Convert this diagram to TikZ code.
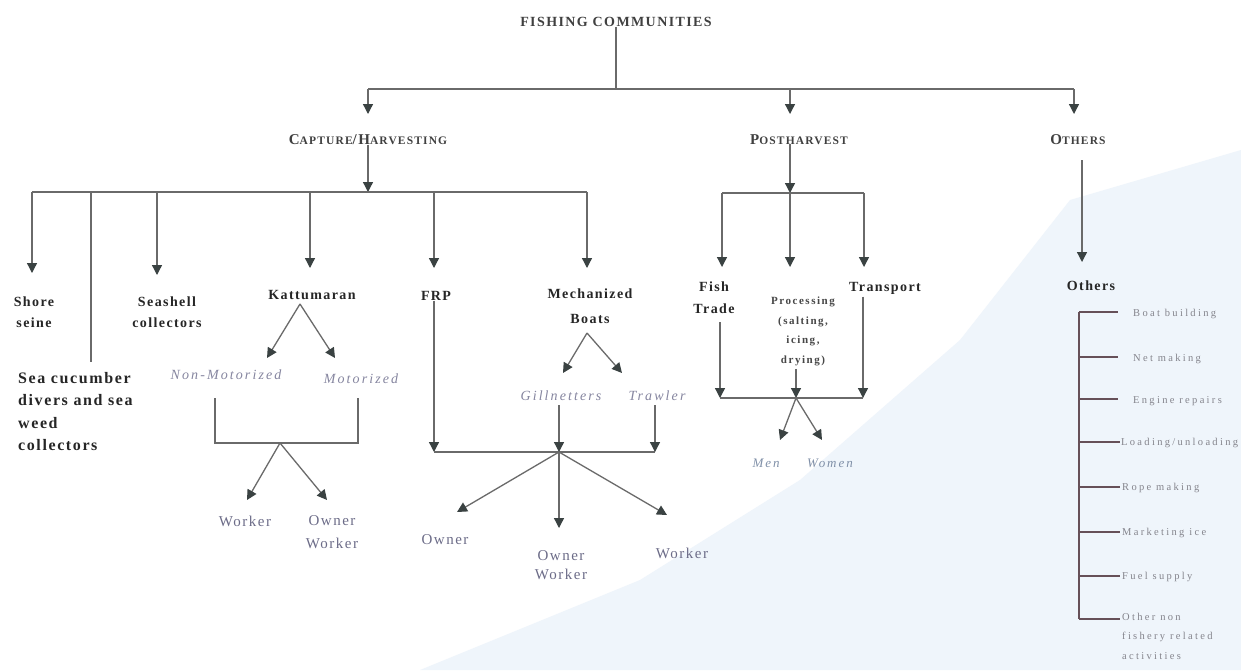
\documentclass[tikz,border=0pt]{standalone}
\usepackage{fontspec}
\setmainfont{Liberation Serif}
\newfontfamily\fA[LetterSpace=10]{Liberation Serif}
\newfontfamily\fB[LetterSpace=15]{Liberation Serif}
\newfontfamily\fC[LetterSpace=22]{Liberation Serif}
\newfontfamily\fD[LetterSpace=10]{Liberation Serif}
\newfontfamily\fE[LetterSpace=14]{Liberation Serif}
\usetikzlibrary{arrows.meta}
\definecolor{linec}{HTML}{6A6A6A}
\definecolor{tipc}{HTML}{3A4242}
\definecolor{boldc}{HTML}{262626}
\definecolor{headc}{HTML}{404040}
\definecolor{itc}{HTML}{8686A0}
\definecolor{lowc}{HTML}{6C6C88}
\definecolor{listc}{HTML}{84848C}
\definecolor{brkc}{HTML}{665058}
\definecolor{mwc}{HTML}{8090A8}
\definecolor{bgblue}{HTML}{EFF5FB}
\newcommand\smc[1]{{\fontsize{11.5}{13}\selectfont #1}}
\begin{document}
\begin{tikzpicture}[x=1pt,y=-1pt,
 ln/.style={draw=linec,line width=1.3pt},
 arr/.style={ln,-{Triangle[width=10pt,length=10pt,color=tipc,fill=tipc]}},
 lbl/.style={inner sep=0pt,align=center},
 ttl/.style={lbl,font={\fD\bfseries\fontsize{14}{16}\selectfont},text=headc},
 hd/.style={lbl,font={\fD\bfseries\fontsize{15}{17}\selectfont},text=headc},
 bl/.style={lbl,font={\fA\bfseries\fontsize{14}{21}\selectfont},text=boldc},
 big/.style={lbl,align=left,font={\fA\bfseries\fontsize{16}{22.5}\selectfont},text=boldc},
 pr/.style={lbl,font={\fE\bfseries\fontsize{11}{19.5}\selectfont},text=boldc!85},
 it/.style={lbl,font={\fB\itshape\fontsize{14}{15}\selectfont},text=itc},
 lo/.style={lbl,font={\fA\fontsize{15}{23}\selectfont},text=lowc},
 li/.style={lbl,anchor=west,align=left,font={\fC\fontsize{10.5}{19.5}\selectfont},text=listc},
 brk/.style={draw=brkc,line width=1.3pt}]
\useasboundingbox (0,0) rectangle (1241,670);
\fill[white] (0,0) rectangle (1241,670);
\fill[bgblue] (420,670) -- (640,580) -- (800,480) -- (960,340) -- (1070,200) -- (1241,150) -- (1241,670) -- cycle;

% ---- top level
\node[ttl] (fc) at (616,22) {FISHING COMMUNITIES};
\coordinate (t0) at (616,89);
\coordinate (tL) at (368,89);
\coordinate (tM) at (790,89);
\coordinate (tR) at (1074,89);
\draw[ln] (fc.south) -- (t0);
\draw[ln] (tL) -- (tR);
\node[hd,anchor=north] (cap) at (368,134) {C\smc{APTURE}/H\smc{ARVESTING}};
\node[hd,anchor=north] (post) at (799,134) {P\smc{OSTHARVEST}};
\node[hd,anchor=north] (oth) at (1078,134) {O\smc{THERS}};
\draw[arr,shorten >=20pt] (tL) -- (tL |- cap.north);
\draw[arr,shorten >=20pt] (tM) -- (tM |- post.north);
\draw[arr,shorten >=20pt] (tR) -- (tR |- oth.north);

% ---- capture / harvesting
\coordinate (cb) at (368,192);
\draw[arr] (cap.south) -- (cb);
\coordinate (c1) at (32,192);
\coordinate (c2) at (91,192);
\coordinate (c3) at (157,192);
\coordinate (c4) at (310,192);
\coordinate (c5) at (434,192);
\coordinate (c6) at (587,192);
\draw[ln] (c1) -- (c6);
\node[bl,anchor=north] (shore) at (34,297) {Shore\\seine};
\draw[arr,shorten >=24pt] (c1) -- (c1 |- shore.north);
\node[big,anchor=north west] (sea) at (18,372) {Sea cucumber\\divers and sea\\weed\\collectors};
\draw[ln,shorten >=10pt] (c2) -- (c2 |- sea.north);
\node[bl,anchor=north] (shell) at (167,297) {Seashell\\collectors};
\draw[arr,shorten >=22pt] (c3) -- (c3 |- shell.north);
\node[bl,anchor=north] (katt) at (312,290) {Kattumaran};
\draw[arr,shorten >=22pt] (c4) -- (c4 |- katt.north);
\node[bl,anchor=north] (frp) at (436,291) {FRP};
\draw[arr,shorten >=23pt] (c5) -- (c5 |- frp.north);
\node[bl,anchor=north,font={\fA\bfseries\fontsize{14}{25}\selectfont}] (mech) at (590,289) {Mechanized\\Boats};
\draw[arr,shorten >=21pt] (c6) -- (c6 |- mech.north);

% ---- Kattumaran subtree
\coordinate (k0) at (300,304);
\coordinate (k1) at (267,358);
\coordinate (k2) at (335,358);
\draw[arr] (k0) -- (k1);
\draw[arr] (k0) -- (k2);
\node[it,anchor=north] (nm) at (226,370) {Non-Motorized};
\node[it,anchor=north] (mot) at (361,374) {Motorized};
\coordinate (kb1) at (215,398);
\coordinate (kb2) at (358,398);
\coordinate (kbl) at (215,443);
\coordinate (kbr) at (358,443);
\coordinate (kbm) at (280,443);
\draw[ln] (kb1) -- (kbl) -- (kbr) -- (kb2);
\coordinate (kw) at (247,500);
\coordinate (kow) at (327,500);
\draw[arr] (kbm) -- (kw);
\draw[arr] (kbm) -- (kow);
\node[lo,anchor=north] (kwork) at (245,516) {Worker};
\node[lo,anchor=north] (kown) at (332,515) {Owner\\Worker};

% ---- FRP / Mechanized subtree
\coordinate (fb1) at (434,452);
\coordinate (fb2) at (655,452);
\coordinate (fbm) at (559,452);
\draw[arr] (frp.south -| c5) -- (fb1);
\draw[ln] (fb1) -- (fb2);
\coordinate (m0) at (587,333);
\coordinate (m1) at (563,373);
\coordinate (m2) at (622,373);
\draw[arr] (m0) -- (m1);
\draw[arr] (m0) -- (m2);
\node[it,anchor=north] (gill) at (561,391) {Gillnetters};
\node[it,anchor=north] (trw) at (657,391) {Trawler};
\draw[arr,shorten <=4pt] (gill.south -| fbm) -- (fbm);
\draw[arr,shorten <=4pt] (trw.south -| fb2) -- (fb2);
\coordinate (fo1) at (457,512);
\coordinate (fo2) at (559,528);
\coordinate (fo3) at (667,515);
\draw[arr] (fbm) -- (fo1);
\draw[arr] (fbm) -- (fo2);
\draw[arr] (fbm) -- (fo3);
\node[lo,anchor=north] (fown) at (445,534) {Owner};
\node[lo,anchor=north,font={\fA\fontsize{15}{19}\selectfont}] (fow) at (561,550) {Owner\\Worker};
\node[lo,anchor=north] (fwork) at (682,548) {Worker};

% ---- Postharvest subtree
\coordinate (pb) at (790,193);
\draw[arr] (tM |- post.south) -- (pb);
\coordinate (p1) at (722,193);
\coordinate (p3) at (864,193);
\draw[ln] (p1) -- (p3);
\node[bl,anchor=north,font={\fA\bfseries\fontsize{14}{22}\selectfont}] (fish) at (714,282) {Fish\\Trade};
\node[pr,anchor=north] (proc) at (803,297) {Processing\\(salting,\\icing,\\drying)};
\node[bl,anchor=north] (trans) at (885,282) {Transport};
\draw[arr,shorten >=15pt] (p1) -- (p1 |- fish.north);
\draw[arr,shorten >=30pt] (pb) -- (pb |- proc.north);
\draw[arr,shorten >=15pt] (p3) -- (p3 |- trans.north);
\coordinate (q1) at (720,398);
\coordinate (q2) at (796,398);
\coordinate (q3) at (863,398);
\draw[arr,shorten <=8pt] (fish.south -| q1) -- (q1);
\draw[arr,shorten <=3pt] (proc.south -| q2) -- (q2);
\draw[arr,shorten <=2pt] (trans.south -| q3) -- (q3);
\draw[ln] (q1) -- (q3);
\coordinate (mw1) at (780,440);
\coordinate (mw2) at (822,440);
\draw[arr] (q2) -- (mw1);
\draw[arr] (q2) -- (mw2);
\node[it,text=mwc,font={\fB\itshape\fontsize{13}{14}\selectfont}] (men) at (766,463) {Men};
\node[it,text=mwc,font={\fB\itshape\fontsize{13}{14}\selectfont}] (women) at (830,463) {Women};

% ---- Others subtree
\coordinate (ox) at (1082,200);
\node[bl,anchor=north] (others) at (1091,281) {Others};
\draw[arr,shorten <=16pt,shorten >=19pt] (oth.south -| ox) -- (ox |- others.north);
\coordinate (ob1) at (1079,312);
\coordinate (ob2) at (1079,357);
\coordinate (ob3) at (1079,399);
\coordinate (ob4) at (1079,442);
\coordinate (ob5) at (1079,487);
\coordinate (ob6) at (1079,532);
\coordinate (ob7) at (1079,576);
\coordinate (ob8) at (1079,619);
\draw[brk] (ob1) -- (ob8);
\node[li] (l1) at (1133,314) {Boat building};
\node[li] (l2) at (1133,359) {Net making};
\node[li] (l3) at (1133,401) {Engine repairs};
\node[li] (l4) at (1121,443) {Loading/unloading};
\node[li] (l5) at (1122,488) {Rope making};
\node[li] (l6) at (1122,533) {Marketing ice};
\node[li] (l7) at (1122,577) {Fuel supply};
\node[li,anchor=north west] (l8) at (1122,613) {Other non\\fishery related\\activities};
\draw[brk,shorten >=15pt] (ob1) -- (ob1 -| l1.west);
\draw[brk,shorten >=15pt] (ob2) -- (ob2 -| l2.west);
\draw[brk,shorten >=15pt] (ob3) -- (ob3 -| l3.west);
\draw[brk,shorten >=1pt] (ob4) -- (ob4 -| l4.west);
\draw[brk,shorten >=2pt] (ob5) -- (ob5 -| l5.west);
\draw[brk,shorten >=2pt] (ob6) -- (ob6 -| l6.west);
\draw[brk,shorten >=2pt] (ob7) -- (ob7 -| l7.west);
\draw[brk,shorten >=2pt] (ob8) -- (ob8 -| l8.west);
\end{tikzpicture}
\end{document}
